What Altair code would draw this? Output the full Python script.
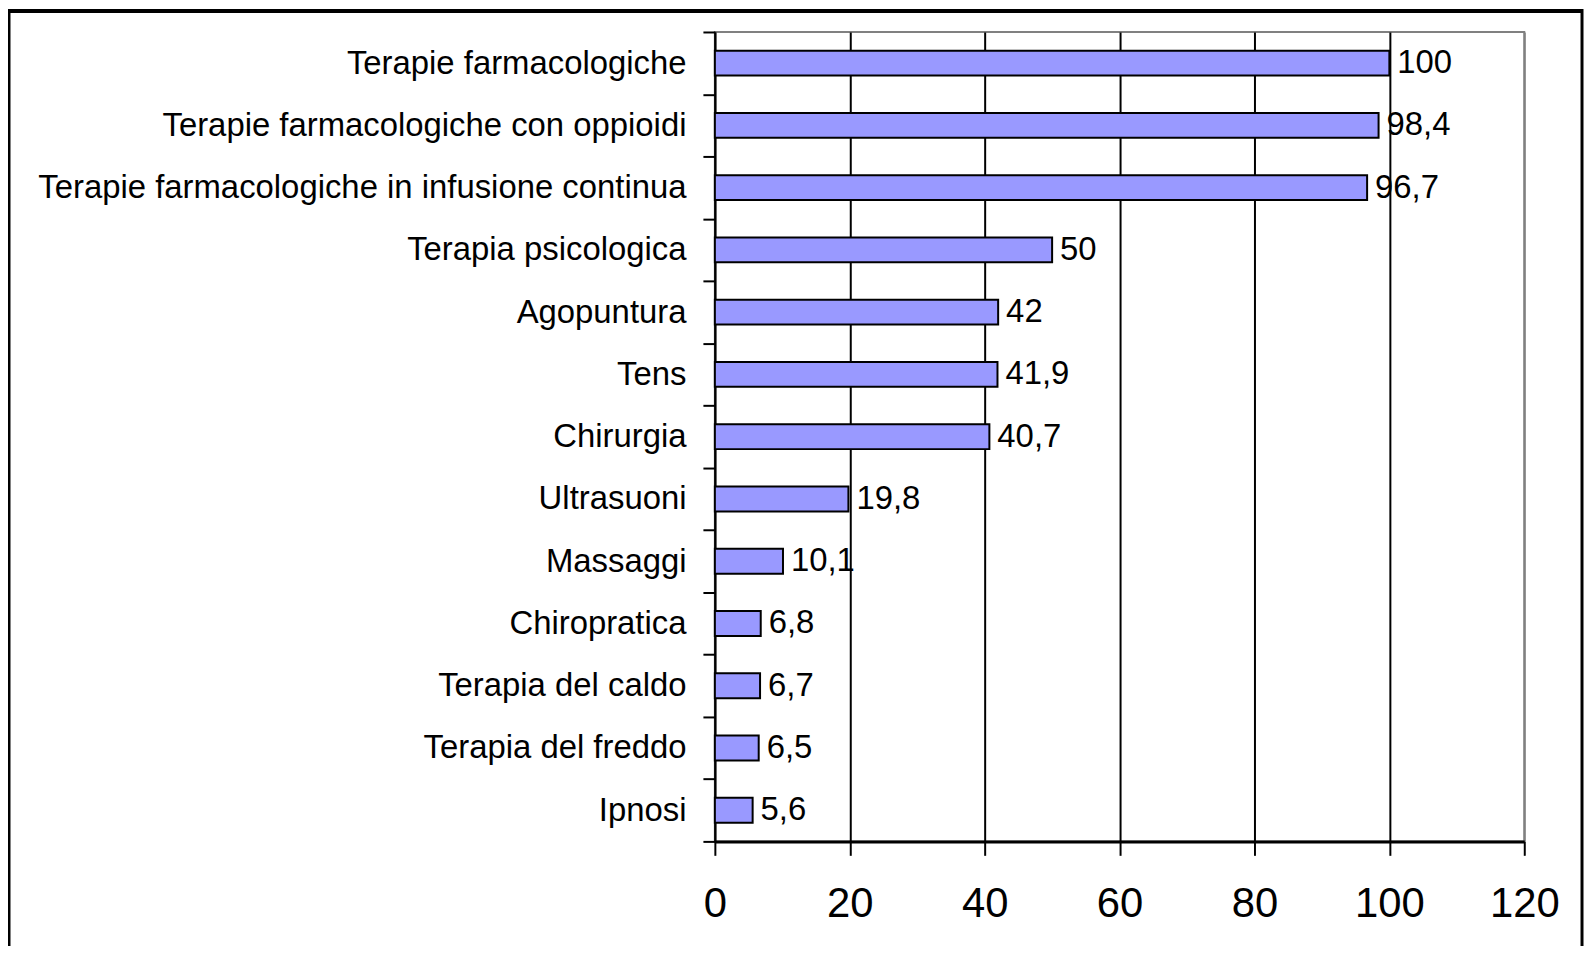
import altair as alt
import pandas as pd

categories = [
    "Terapie farmacologiche",
    "Terapie farmacologiche con oppioidi",
    "Terapie farmacologiche in infusione continua",
    "Terapia psicologica",
    "Agopuntura",
    "Tens",
    "Chirurgia",
    "Ultrasuoni",
    "Massaggi",
    "Chiropratica",
    "Terapia del caldo",
    "Terapia del freddo",
    "Ipnosi",
]
values = [100, 98.4, 96.7, 50, 42, 41.9, 40.7, 19.8, 10.1, 6.8, 6.7, 6.5, 5.6]
x_ticks = [0, 20, 40, 60, 80, 100, 120]

df = pd.DataFrame({"cat": categories, "val": values})

FONT = "Liberation Sans"

y_enc = alt.Y(
    "cat:N",
    sort=categories,
    title=None,
    scale=alt.Scale(paddingInner=0, paddingOuter=0),
    axis=alt.Axis(
        tickBand="extent",
        tickSize=12,
        tickWidth=2,
        tickColor="black",
        domainColor="black",
        domainWidth=2,
        labelFont=FONT,
        labelFontSize=33,
        labelColor="black",
        labelPadding=17,
        labelLimit=1000,
        grid=False,
    ),
)

x_enc = alt.X(
    "val:Q",
    title=None,
    scale=alt.Scale(domain=[0, 120], nice=False),
    axis=alt.Axis(
        values=x_ticks,
        grid=True,
        gridColor=alt.condition("datum.value === 120", alt.value("#808080"), alt.value("black")),
        gridWidth=2,
        tickSize=14,
        tickWidth=2,
        tickColor="black",
        domainColor="black",
        domainWidth=3,
        labelFont=FONT,
        labelFontSize=42,
        labelColor="black",
        labelPadding=28,
        labelFlush=False,
    ),
)

base = alt.Chart(df)

bars = base.mark_bar(size=25, color="#9999FF", stroke="black", strokeWidth=2).encode(
    x=x_enc, y=y_enc
)

labels = base.mark_text(
    align="left", baseline="middle", dx=8, font=FONT, fontSize=33, color="black"
).encode(
    x="val:Q",
    y=alt.Y("cat:N", sort=categories),
    text="lbl:N",
).transform_calculate(lbl="replace(toString(datum.val), '.', ',')")

frame_df = pd.DataFrame({"a": [0]})
fr = alt.Chart(frame_df)
top = fr.mark_rule(color="black", strokeWidth=4).encode(
    x=alt.value(-709), x2=alt.value(871), y=alt.value(-21)
)
left = fr.mark_rule(color="black", strokeWidth=3).encode(
    x=alt.value(-709), y=alt.value(-23), y2=alt.value(918)
)
right = fr.mark_rule(color="black", strokeWidth=3).encode(
    x=alt.value(871), y=alt.value(-23), y2=alt.value(918)
)

chart = (
    alt.layer(bars, labels, top, left, right)
    .properties(
        width=813,
        height=813,
        autosize=alt.AutoSizeParams(type="none"),
        padding={"left": 710, "top": 22, "right": 61, "bottom": 105},
        background="white",
    )
    .configure_view(stroke="#808080", strokeWidth=2)
)

chart.save("out.html", embed_options={"renderer": "svg", "actions": False})
